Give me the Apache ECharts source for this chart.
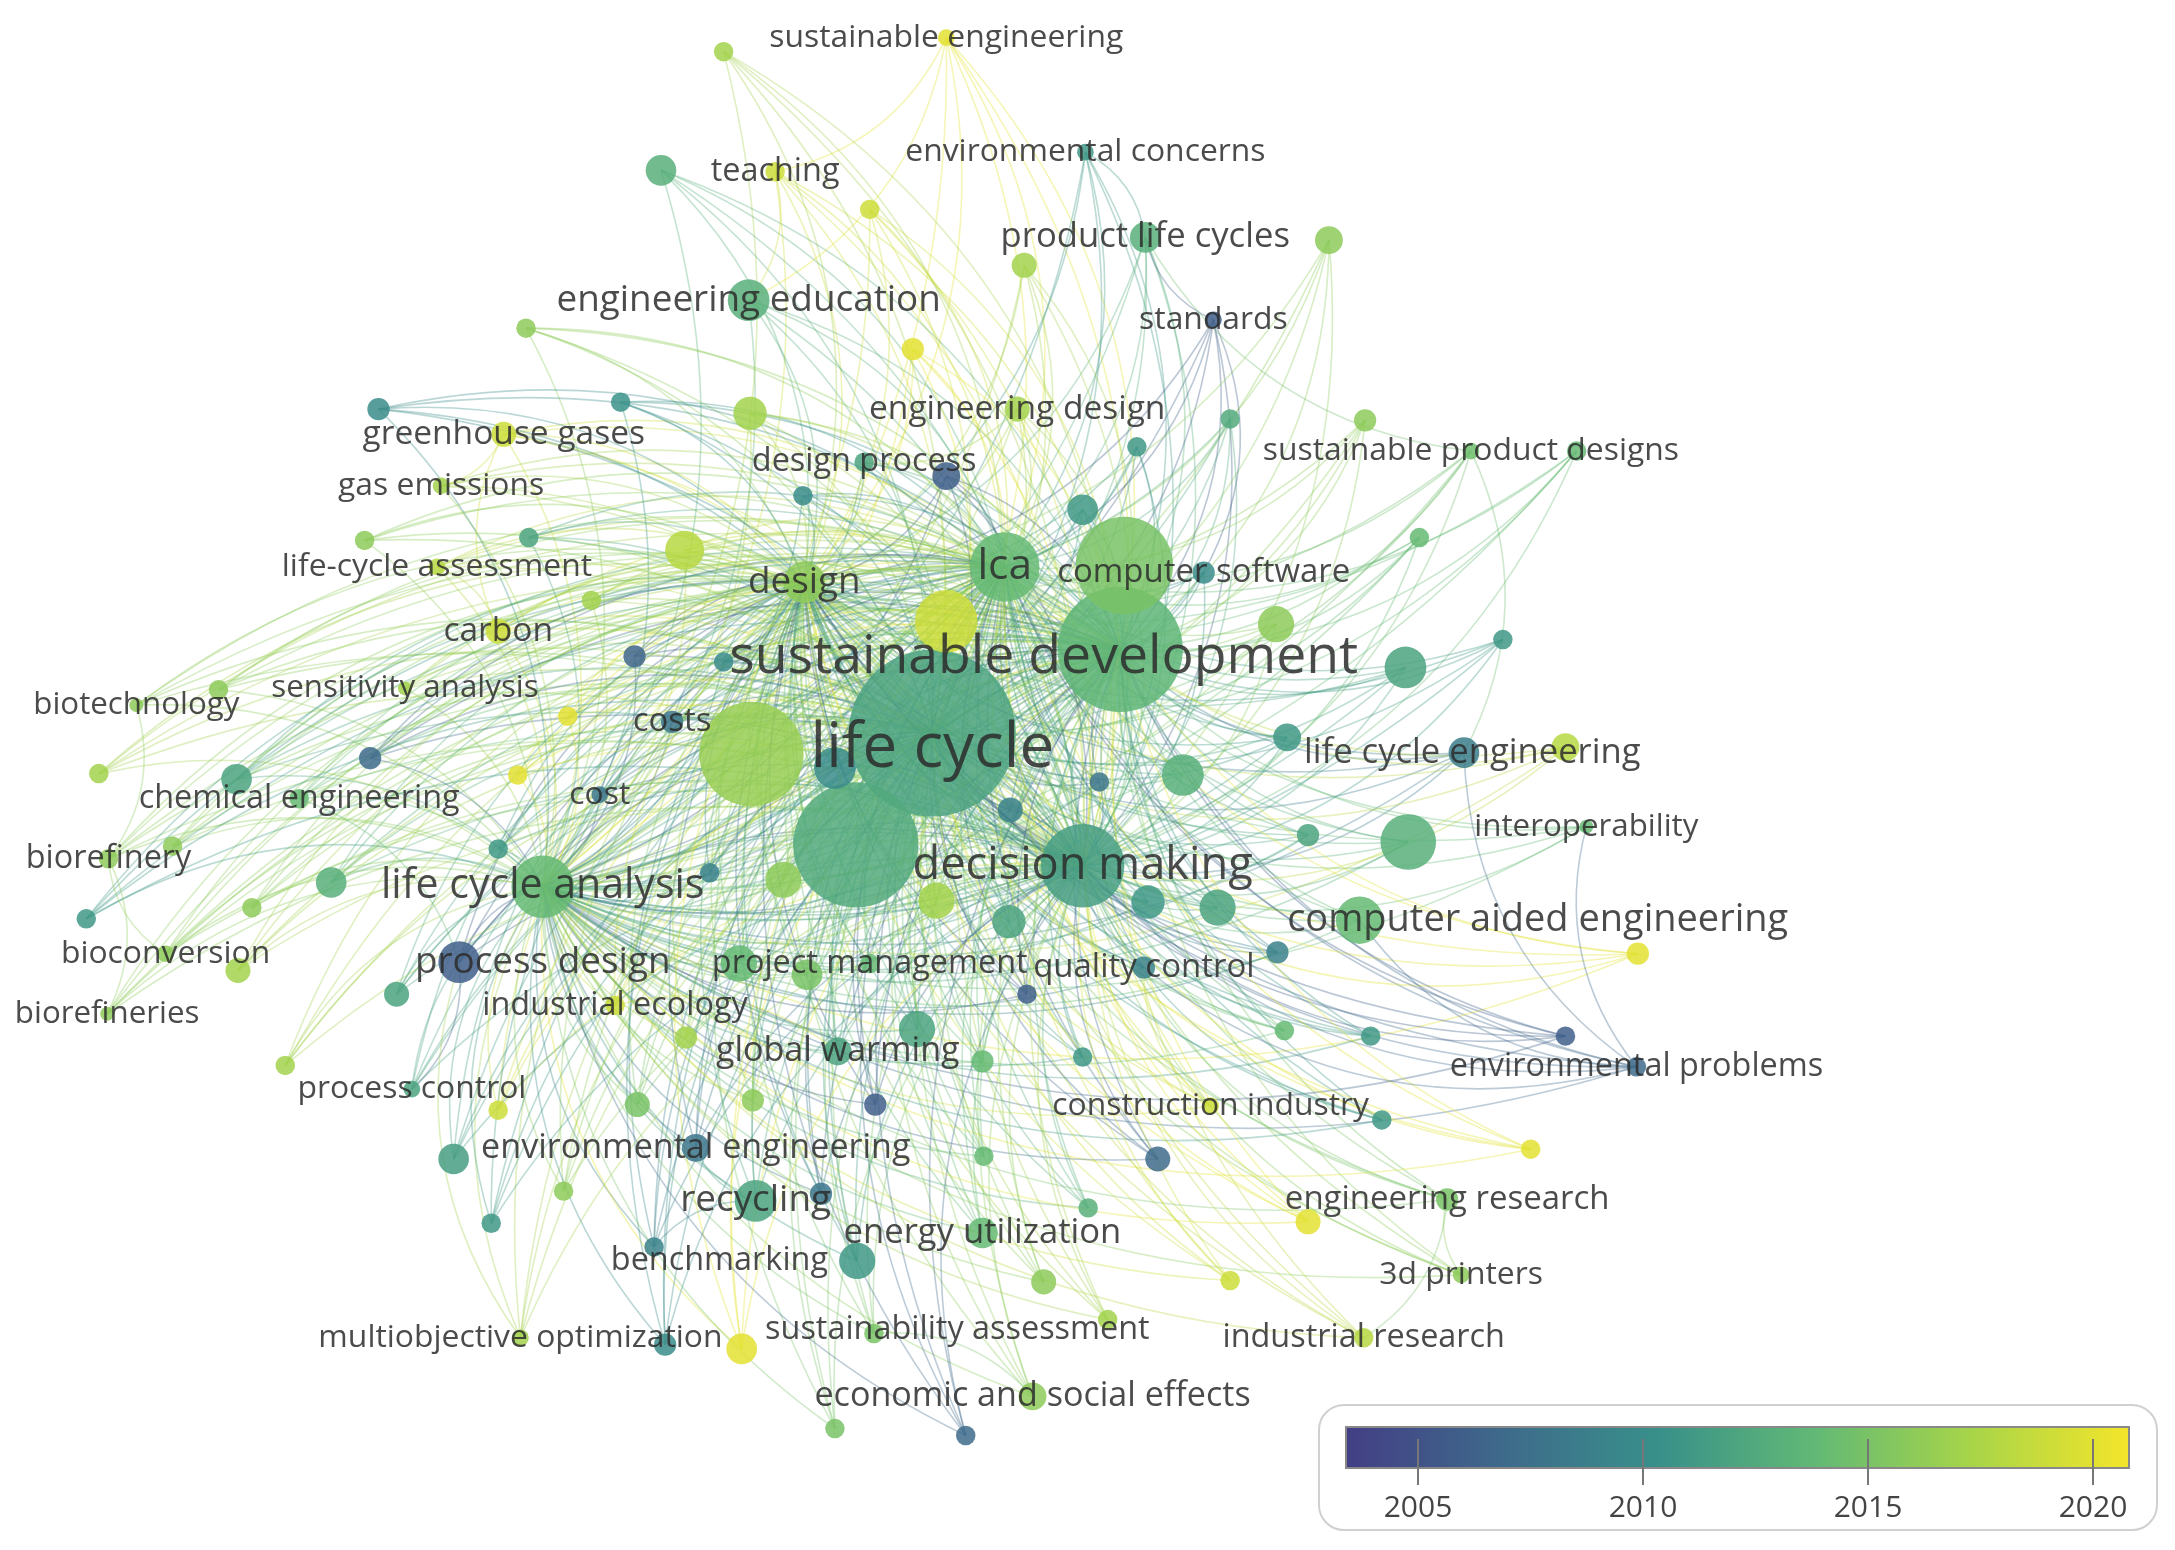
<!DOCTYPE html>
<html>
<head>
<meta charset="utf-8">
<script src="https://cdn.jsdelivr.net/npm/echarts@6/dist/echarts.min.js"></script>
<style>html,body{margin:0;padding:0;background:#fff}#main{width:2175px;height:1550px}</style>
</head>
<body>
<div id="main"></div>
<script>
// keyword nodes: name, x, y, diameter, avg. publication year (read in 1563x1110 picture units)
var labeledNodes = [
  ['sustainable engineering', 680, 27, 12, 2020],
  ['teaching', 557, 123, 14, 2019],
  ['environmental concerns', 780, 109, 12, 2011],
  ['product life cycles', 823, 170, 22, 2013],
  ['engineering education', 538, 215, 30, 2013],
  ['standards', 872, 229, 12, 2006],
  ['engineering design', 731, 293, 18, 2017],
  ['greenhouse gases', 362, 311, 18, 2019],
  ['sustainable product designs', 1057, 323, 12, 2014.5],
  ['design process', 621, 331, 14, 2012],
  ['gas emissions', 317, 348, 12, 2017],
  ['life-cycle assessment', 314, 406, 12, 2018],
  ['lca', 722, 406, 50, 2014],
  ['computer software', 865, 410, 16, 2010],
  ['design', 578, 417, 30, 2016],
  ['carbon', 358, 452, 18, 2019],
  ['sustainable development', 805, 465, 90, 2013.5],
  ['sensitivity analysis', 291, 493, 10, 2017],
  ['biotechnology', 98, 505, 10, 2016],
  ['costs', 483, 517, 16, 2008],
  ['life cycle', 670, 525, 120, 2012],
  ['life cycle engineering', 1052, 539, 22, 2008.5],
  ['chemical engineering', 215, 572, 14, 2014],
  ['cost', 431, 569, 12, 2008],
  ['biorefinery', 78, 615, 14, 2016],
  ['interoperability', 1140, 592, 10, 2014],
  ['decision making', 778, 620, 60, 2011.5],
  ['life cycle analysis', 390, 635, 45, 2014],
  ['computer aided engineering', 977, 659, 34, 2014],
  ['bioconversion', 119, 683, 12, 2016],
  ['process design', 330, 689, 30, 2006],
  ['project management', 625, 690, 14, 2014],
  ['quality control', 822, 693, 16, 2009],
  ['biorefineries', 77, 726, 10, 2016],
  ['industrial ecology', 442, 720, 14, 2019],
  ['global warming', 602, 753, 20, 2012],
  ['environmental problems', 1176, 764, 14, 2007],
  ['process control', 296, 780, 12, 2012],
  ['construction industry', 870, 792, 12, 2019],
  ['environmental engineering', 500, 822, 20, 2008],
  ['recycling', 543, 860, 30, 2012],
  ['engineering research', 1040, 859, 16, 2015],
  ['energy utilization', 706, 883, 22, 2014],
  ['benchmarking', 470, 893, 14, 2009],
  ['3d printers', 1050, 913, 12, 2016],
  ['multiobjective optimization', 374, 958, 12, 2017],
  ['sustainability assessment', 628, 955, 14, 2015],
  ['industrial research', 980, 958, 14, 2018],
  ['economic and social effects', 742, 1000, 20, 2016]
];
var unlabeledNodes = [
  [520,37,14,2017],[475,122,22,2013],[625,150,14,2019],[736,190,18,2017],[955,172,20,2016],
  [656,250,16,2020],[378,235,14,2016],[272,293,16,2010],[446,288,14,2010.5],[539,296,24,2017],
  [680,341,20,2006],[577,355,14,2010],[817,320,14,2011],[884,300,14,2012.5],[981,301,16,2016],
  [1133,323,14,2014],[778,365,22,2011],[380,385,14,2012],[262,387,14,2016],[492,394,28,2018],
  [425,430,14,2017],[808,405,70,2015],[917,447,26,2016],[680,445,45,2019],[456,470,16,2006.5],
  [520,474,14,2010],[1010,478,30,2012],[1080,458,14,2011],[1020,385,14,2014],[157,494,14,2016],
  [408,513,14,2020],[540,540,75,2016.5],[615,605,90,2012.5],[600,550,30,2010],[372,555,14,2020],
  [266,543,16,2007],[170,558,22,2012],[71,554,14,2017],[1125,535,20,2018],[925,528,20,2011],
  [850,555,30,2013],[726,580,18,2009],[790,560,14,2008],[1012,603,40,2013],[940,598,16,2012],
  [124,606,14,2016],[358,608,14,2011],[510,625,14,2009],[563,630,26,2016],[673,645,26,2017],
  [825,646,24,2011],[875,650,26,2012],[238,632,22,2013],[181,650,14,2016],[62,658,14,2011],
  [725,660,24,2012],[171,695,18,2017],[918,682,16,2009],[1177,683,16,2020],[531,690,26,2014],
  [580,698,22,2015],[738,712,14,2006],[285,712,18,2012],[493,743,16,2017],[659,737,26,2012],
  [205,763,14,2017],[706,760,16,2014],[778,757,14,2011],[923,738,14,2014],[985,742,14,2011],
  [1125,742,14,2006],[629,791,16,2006],[458,791,18,2015],[541,788,16,2016],[358,795,14,2019],
  [993,802,14,2011],[1100,823,14,2020],[832,830,18,2007],[707,828,14,2014],[326,830,22,2011.5],
  [405,853,14,2016],[590,855,16,2008],[782,865,14,2013],[353,876,14,2011],[940,875,18,2020],
  [616,903,26,2011],[884,917,14,2019],[750,918,18,2016],[533,966,22,2020],[478,963,16,2010],
  [796,945,14,2017],[600,1023,14,2015],[694,1028,14,2007]
];
// central keywords almost every term co-occurs with
var hubs = ['life cycle', 'sustainable development', 'decision making', 'lca', 'life cycle analysis', 'design'];
var extraLinks = [
  ['sustainable engineering','teaching'],['sustainable engineering','engineering education'],
  ['teaching','engineering education'],['environmental concerns','product life cycles'],
  ['standards','product life cycles'],['standards','computer software'],
  ['environmental problems','life cycle engineering'],['environmental problems','computer aided engineering'],
  ['environmental problems','interoperability'],['environmental problems','quality control'],
  ['biorefinery','biorefineries'],['bioconversion','biorefinery'],['biotechnology','biorefinery'],
  ['chemical engineering','process design'],['process design','process control'],
  ['greenhouse gases','gas emissions'],['carbon','greenhouse gases'],['life-cycle assessment','carbon'],
  ['engineering research','industrial research'],['3d printers','engineering research'],
  ['multiobjective optimization','process design'],['sustainability assessment','economic and social effects'],
  ['recycling','environmental engineering'],['benchmarking','recycling'],['industrial ecology','global warming'],
  ['construction industry','quality control'],['engineering design','design process'],
  ['sustainable product designs','product life cycles'],['sustainable product designs','life cycle engineering']
];
var years = [2005, 2010, 2015, 2020];
var colorStops = ['#433e85', '#3e6a8b', '#38908a', '#62b975', '#a8d548', '#f4e52a'];
var yearMin = 2003.4, yearMax = 2020.8;

function yearColor(y) {
  var t = Math.max(0, Math.min(1, (y - yearMin) / (yearMax - yearMin))) * (colorStops.length - 1);
  var i = Math.min(colorStops.length - 2, Math.floor(t));
  var a = echarts.color.parse(colorStops[i]), b = echarts.color.parse(colorStops[i + 1]);
  var f = t - i;
  return 'rgb(' + [0, 1, 2].map(function (k) { return Math.round(a[k] + (b[k] - a[k]) * f); }).join(',') + ')';
}

var S = 2175 / 1563;
// label shift for terms whose text sits beside the bubble
var labelShift = { 'sustainable development': [-55, 6], 'life cycle': [0, 12], 'process design': [60, 0],
  'computer aided engineering': [128, 0], 'life cycle engineering': [6, 0],
  'sustainability assessment': [60, -3], 'benchmarking': [47, 10] };
var nodes = [], colorOf = {};
labeledNodes.forEach(function (n) {
  var sz = n[3] * S, sh = labelShift[n[0]] || [0, 0];
  colorOf[n[0]] = yearColor(n[4]);
  nodes.push({ name: n[0], value: [n[1], n[2]], symbolSize: sz,
    itemStyle: { color: colorOf[n[0]] },
    label: { show: true, fontSize: (20.5 + n[3] * 0.2) * S,
      position: [sz / 2 + sh[0] * S, sz / 2 + sh[1] * S], align: 'center', verticalAlign: 'middle' } });
});
unlabeledNodes.forEach(function (n, i) {
  colorOf['n' + i] = yearColor(n[3]);
  nodes.push({ name: 'n' + i, value: [n[0], n[1]], symbolSize: n[2] * S,
    itemStyle: { color: colorOf['n' + i] }, label: { show: false } });
});

var links = [];
function addLink(s, t) {
  links.push({ source: s, target: t, lineStyle: { color: colorOf[s] } });
}
nodes.forEach(function (n) {
  hubs.forEach(function (h) { if (h !== n.name) addLink(n.name, h); });
});
extraLinks.forEach(function (l) { addLink(l[0], l[1]); });

var myChart = echarts.init(document.getElementById('main'));
var bx = 1346, bw = 783, by = 1427, bh = 41;
var legendEls = [
  { type: 'rect', shape: { x: 1319, y: 1405, width: 838, height: 125, r: 25 },
    style: { fill: '#fff', stroke: '#d0d0d0', lineWidth: 2 } },
  { type: 'rect', shape: { x: bx, y: by, width: bw, height: bh },
    style: { stroke: '#888', lineWidth: 2, fill: new echarts.graphic.LinearGradient(0, 0, 1, 0,
      colorStops.map(function (c, i) { return { offset: i / (colorStops.length - 1), color: c }; })) } }
];
years.forEach(function (y) {
  var px = bx + (y - yearMin) / (yearMax - yearMin) * bw;
  legendEls.push({ type: 'line', shape: { x1: px, y1: by + 12, x2: px, y2: by + 58 }, style: { stroke: '#777', lineWidth: 2 } });
  legendEls.push({ type: 'text', x: px, y: by + 66, style: { text: String(y), font: '30px "Open Sans"', fill: '#444', align: 'center' } });
});

option = {
  backgroundColor: '#fff',
  grid: { left: 0, right: 0, top: 0, bottom: 0 },
  xAxis: { type: 'value', min: 0, max: 1563, show: false },
  yAxis: { type: 'value', min: 0, max: 1110, inverse: true, show: false },
  series: [{
    type: 'graph',
    coordinateSystem: 'cartesian2d',
    layout: 'none',
    symbol: 'circle',
    data: nodes,
    links: links,
    itemStyle: { opacity: 0.85 },
    label: { color: '#2b2b2b', fontFamily: 'Open Sans' },
    lineStyle: { width: 1.6, opacity: 0.35, curveness: 0.25 },
    labelLayout: { hideOverlap: false },
    animation: false
  }],
  graphic: legendEls
};
myChart.setOption(option);
</script>
</body>
</html>
